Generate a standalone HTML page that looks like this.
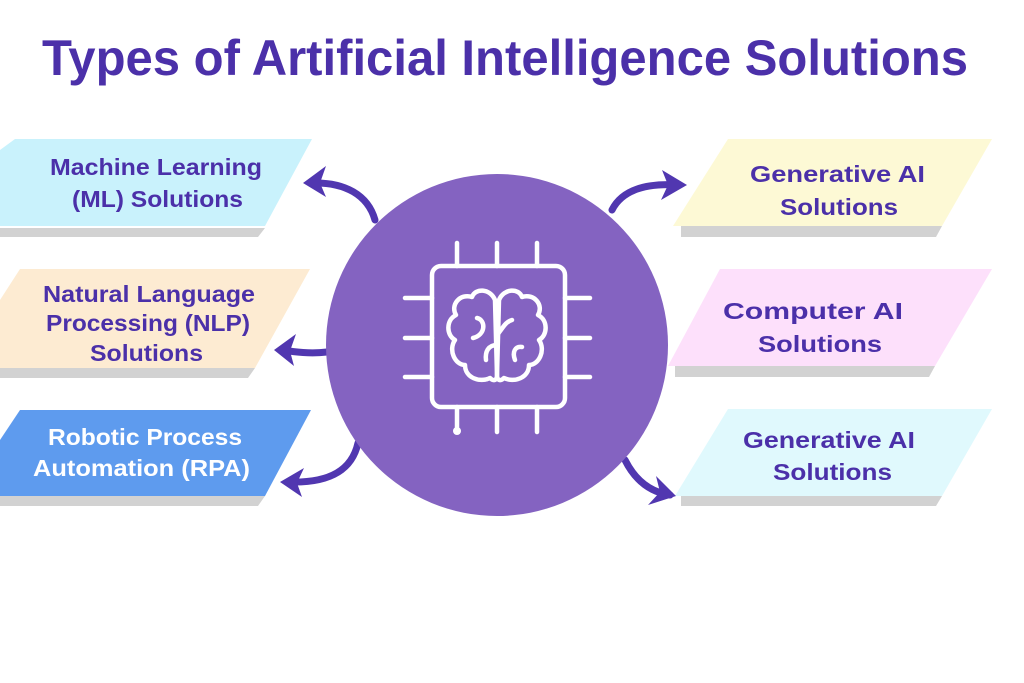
<!DOCTYPE html>
<html><head><meta charset="utf-8"><style>
html,body{margin:0;padding:0;background:#fff;}
svg{display:block;}
text{font-family:"Liberation Sans",sans-serif;font-weight:bold;}
</style></head><body>
<svg width="1024" height="683" viewBox="0 0 1024 683" xmlns="http://www.w3.org/2000/svg">
<rect width="1024" height="683" fill="#fff"/>
<text x="42" y="75" font-size="50" fill="#4b30a9" textLength="926" lengthAdjust="spacingAndGlyphs">Types of Artificial Intelligence Solutions</text>

<!-- left boxes -->
<polygon points="0,228 265,228 258,237 0,237" fill="#d2d2d2"/>
<polygon points="15,139 312,139 265,226 0,226 0,150" fill="#c9f2fc"/>
<polygon points="0,368 255,368 248,378 0,378" fill="#d2d2d2"/>
<polygon points="20,269 310,269 255,368 0,368 0,300" fill="#fdebd2"/>
<polygon points="0,496 265,496 258,506 0,506" fill="#d2d2d2"/>
<polygon points="20,410 311,410 265,496 0,496 0,440" fill="#5e9bee"/>

<!-- right boxes -->
<polygon points="681,226 942,226 936,237 681,237" fill="#d2d2d2"/>
<polygon points="728,139 992,139 942,226 673,226" fill="#fdf9d5"/>
<polygon points="675,366 935,366 929,377 675,377" fill="#d2d2d2"/>
<polygon points="720,269 992,269 935,366 668,366" fill="#fde0fb"/>
<polygon points="681,496 942,496 936,506 681,506" fill="#d2d2d2"/>
<polygon points="728,409 992,409 942,496 675,496" fill="#e0f9fd"/>

<g font-size="23" fill="#4b30a9" lengthAdjust="spacingAndGlyphs">
<text x="50" y="175" textLength="212" lengthAdjust="spacingAndGlyphs">Machine Learning</text>
<text x="72" y="207" textLength="171" lengthAdjust="spacingAndGlyphs">(ML) Solutions</text>
<text x="43" y="302" textLength="212" lengthAdjust="spacingAndGlyphs">Natural Language</text>
<text x="46" y="331" textLength="204" lengthAdjust="spacingAndGlyphs">Processing (NLP)</text>
<text x="90" y="361" textLength="113" lengthAdjust="spacingAndGlyphs">Solutions</text>
<text x="48" y="445" fill="#ffffff" textLength="194" lengthAdjust="spacingAndGlyphs">Robotic Process</text>
<text x="33" y="476" fill="#ffffff" textLength="217" lengthAdjust="spacingAndGlyphs">Automation (RPA)</text>
<text x="750" y="182" textLength="175" lengthAdjust="spacingAndGlyphs">Generative AI</text>
<text x="780" y="215" textLength="118" lengthAdjust="spacingAndGlyphs">Solutions</text>
<text x="723" y="319" textLength="180" lengthAdjust="spacingAndGlyphs">Computer  AI</text>
<text x="758" y="352" textLength="124" lengthAdjust="spacingAndGlyphs">Solutions</text>
<text x="743" y="448" textLength="172" lengthAdjust="spacingAndGlyphs">Generative AI</text>
<text x="773" y="480" textLength="119" lengthAdjust="spacingAndGlyphs">Solutions</text>
</g>

<!-- arrows -->
<g stroke="#5137b0" stroke-width="7" fill="none" stroke-linecap="round" stroke-linejoin="round">
<path d="M375,220 C368,195 345,182 312,183"/>
<path d="M327,352 C310,354 295,352 282,350"/>
<path d="M358,443 C352,470 330,483 290,482"/>
<path d="M612,210 C622,190 645,183 678,185"/>
<path d="M625,460 C635,480 650,492 670,495"/>
</g>
<g fill="#5137b0">
<polygon points="303,183 326,166 320,183 326,197"/>
<polygon points="274,350 296,334 290,351 294,366"/>
<polygon points="280,482 304,468 297,483 302,497"/>
<polygon points="687,185 662,170 668,185 661,200"/>
<polygon points="676,496 656,476 660,492 648,505"/>
</g>

<circle cx="497" cy="345" r="171" fill="#8463c1"/>

<!-- chip icon -->
<g stroke="#fff" stroke-width="4.5" fill="none" stroke-linecap="round" stroke-linejoin="round">
<rect x="432" y="266" width="133" height="141" rx="9"/>
<path d="M457,243V266M497,243V266M537,243V266M457,407V430M497,407V432M537,407V432M405,298H432M405,338H432M405,377H432M565,298H590M565,338H590M565,377H590"/>
<path d="M495,300 C490,288 475,288 472,297 C460,293 450,305 456,315 C446,320 446,335 455,340 C448,350 455,365 465,365 C465,378 480,383 490,378 C494,382 497,380 497,375 Z"/>
<path d="M499,300 C504,288 519,288 522,297 C534,293 544,305 538,315 C548,320 548,335 539,340 C546,350 539,365 529,365 C529,378 514,383 504,378 C500,382 497,380 497,375 Z"/>
<path d="M477,318 C486,320 486,335 473,338"/>
<path d="M497,345 C488,345 485,352 486,360"/>
<path d="M497,335 C503,328 505,322 512,320"/>
<path d="M522,347 C515,346 512,352 515,360"/>
</g>
<circle cx="457" cy="431" r="4" fill="#fff"/>
</svg>
</body></html>
